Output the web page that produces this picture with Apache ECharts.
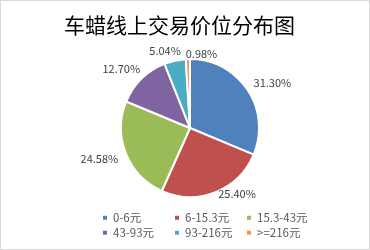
<!DOCTYPE html>
<html>
<head>
<meta charset="utf-8">
<script src="https://cdn.jsdelivr.net/npm/echarts@6/dist/echarts.min.js"></script>
<style>
  html, body { margin: 0; padding: 0; background: #fff; }
  #chart { width: 368px; height: 248px; border: 1px solid #d9d9d9; }
</style>
</head>
<body>
<div id="chart"></div>
<script>
// Price ranges of online car wax sales and their share (%)
const categories = ['0-6元', '6-15.3元', '15.3-43元', '43-93元', '93-216元', '>=216元'];
const shares = [31.30, 25.40, 24.58, 12.70, 5.04, 0.98];
const colors = ['#4F81BD', '#C0504D', '#9BBB59', '#8064A2', '#4BACC6', '#F79646'];

// small nudges for the outside percentage labels, per slice
const labelNudge = [[-3, -4], [-4, -3], [2, 4], [7, -6], [12, -5], [3, 0]];
// legend grid: 3 columns x 2 rows
const legendCols = [95, 167, 239];
const legendRows = [206, 221];

const chart = echarts.init(document.getElementById('chart'), null, { renderer: 'canvas' });

const legends = categories.map((name, i) => ({
  data: [name],
  left: legendCols[i % 3],
  top: legendRows[Math.floor(i / 3)],
  icon: 'rect',
  itemWidth: 6,
  itemHeight: 6,
  textStyle: {
    fontFamily: 'Noto Sans CJK SC',
    fontSize: 11.5,
    color: '#595959'
  }
}));

chart.setOption({
  color: colors,
  title: {
    text: '车蜡线上交易价位分布图',
    left: 58,
    top: 9,
    textStyle: {
      fontFamily: 'Noto Sans CJK SC',
      fontSize: 21,
      fontWeight: 'normal',
      color: '#000'
    }
  },
  legend: legends,
  series: [{
    type: 'pie',
    center: [189, 127],
    radius: 69,
    startAngle: 90,
    clockwise: true,
    avoidLabelOverlap: false,
    minShowLabelAngle: 0,
    animation: false,
    itemStyle: { borderColor: '#fff', borderWidth: 2 },
    label: {
      position: 'outside',
      formatter: p => p.value.toFixed(2) + '%',
      fontFamily: 'Noto Sans CJK SC',
      fontSize: 11,
      color: '#404040'
    },
    labelLine: { show: false, length: 5, length2: 0 },
    labelLayout: p => {
      const out = {
        hideOverlap: false,
        dx: labelNudge[p.dataIndex][0],
        dy: labelNudge[p.dataIndex][1]
      };
      // the thinnest slice sits just left of 12 o'clock; its label reads to the right
      if (p.dataIndex === shares.length - 1) out.align = 'left';
      return out;
    },
    data: categories.map((c, i) => ({ name: c, value: shares[i] }))
  }]
});
</script>
</body>
</html>
